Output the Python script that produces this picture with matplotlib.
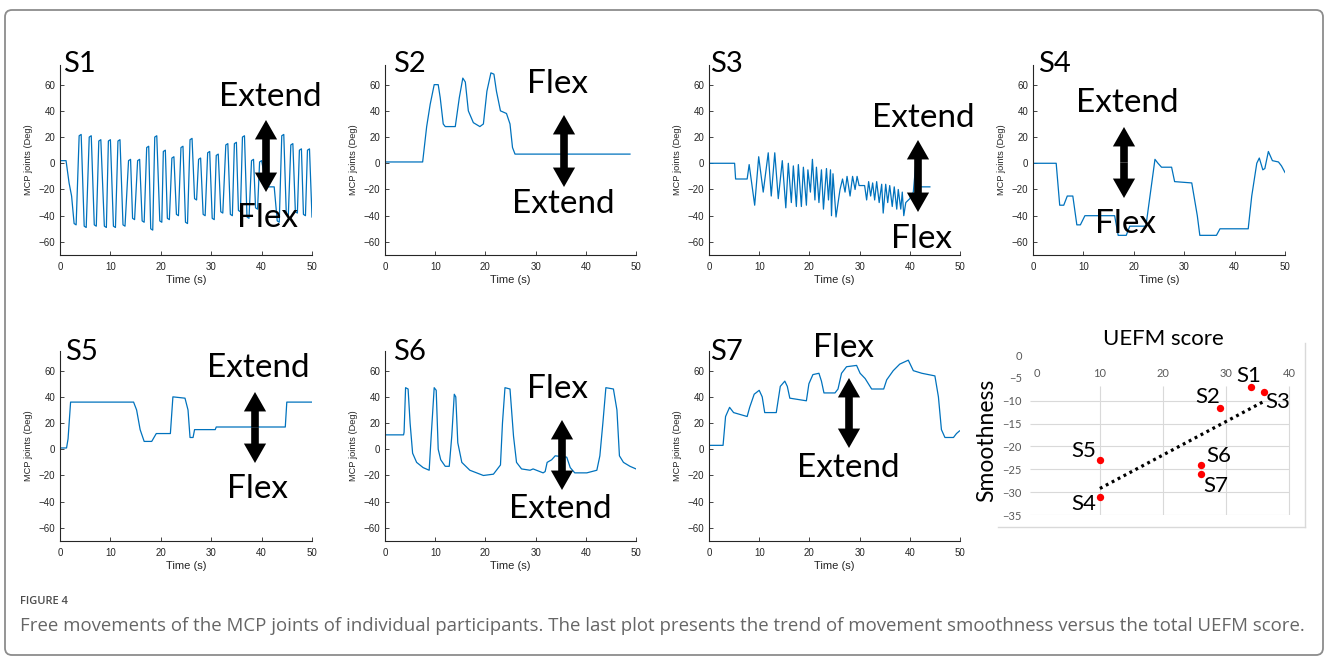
import matplotlib
matplotlib.use('Agg')
import matplotlib.pyplot as plt
import numpy as np
from matplotlib.patches import FancyArrowPatch, FancyBboxPatch
from matplotlib.lines import Line2D
from matplotlib.transforms import IdentityTransform

plt.rcParams['font.family'] = ['Liberation Sans', 'DejaVu Sans']

W, H, DPI = 1328, 662, 100

# ---------------- data ----------------
s1_t = [0, 1.2, 1.8, 2.3, 2.8, 3.2, 3.8, 4.2, 4.8, 5.2, 5.8, 6.2, 6.8, 7.2, 7.7, 8.1,
        8.8, 9.2, 9.6, 10.0, 10.6, 11.0, 11.5, 11.9, 12.5, 12.9, 13.6, 14.0, 14.4, 14.8,
        15.4, 15.8, 16.3, 16.7, 17.2, 17.6, 18.0, 18.4, 18.8, 19.2, 19.8, 20.2, 20.5,
        20.9, 21.3, 21.7, 22.2, 22.6, 23.1, 23.5, 24.0, 24.4, 24.9, 25.3, 25.8, 26.2,
        26.7, 27.1, 27.5, 27.9, 28.4, 28.8, 29.3, 29.7, 30.2, 30.6, 31.0, 31.4, 31.9,
        32.3, 32.9, 33.3, 33.8, 34.2, 34.6, 35.0, 35.4, 35.8, 36.2, 36.6, 37.1, 37.5,
        38.0, 38.4, 38.8, 39.2, 39.6, 40.0, 41.0, 42.5, 43.1, 43.5, 44.0, 44.4, 44.9,
        45.3, 45.8, 46.2, 46.7, 47.1, 47.5, 47.9, 48.3, 48.7, 49.1, 49.5, 50.0]
s1_v = [2, 2, -15, -25, -46, -47, 21, 22, -48, -49, 20, 21, -47, -48, 17, 18,
        -48, -49, 17, 18, -48, -49, 17, 18, -47, -48, 2, 3, -42, -43,
        2, 3, -44, -45, 12, 13, -50, -51, 20, 21, -44, -45, 9,
        10, -42, -43, 4, 5, -39, -40, 12, 13, -45, -46, 18, 19,
        -27, -28, 3, 4, -39, -40, 8, 9, -42, -43, 6, 7, -37,
        -38, 14, 15, -39, -40, 15, 16, -36, -37, 20, 21, -41, -42,
        2, 3, -34, -35, 1, 2, -18, -18, -44, -45, 21, 22, -39,
        -40, 14, 15, -37, -38, 10, 11, -39, -40, 10, 11, -41]

s2_t = [0, 7.5, 8.3, 9.0, 9.8, 10.6, 11.0, 11.6, 12.0, 14.0, 14.8, 15.5, 16.0, 16.6,
        17.6, 18.9, 19.6, 20.3, 21.1, 21.7, 22.2, 23.0, 24.2, 24.9, 25.4, 25.9, 48.8]
s2_v = [1, 1, 28, 45, 60, 60, 50, 30, 28, 28, 50, 65, 62, 40,
        31, 28, 30, 55, 69, 68, 55, 40, 38, 30, 12, 7, 7]

s3_t = [0, 5.1, 5.3, 7.6, 8.0, 9.1, 9.9, 10.8, 11.8, 12.4, 13.1, 13.8, 14.6, 15.3, 15.8,
        16.4, 16.8, 17.4, 17.8, 18.4, 18.8, 19.4, 19.7, 20.2, 20.6, 21.1, 21.4, 21.9,
        22.4, 22.8, 23.4, 23.8, 24.2, 24.4, 24.7, 25.3, 26.1, 26.6, 27.1, 27.5, 28.1,
        28.6, 29.1, 29.5, 29.9, 31.0, 31.4, 31.8, 32.2, 32.6, 33.0, 33.4, 33.9, 34.4,
        34.7, 35.2, 35.6, 36.0, 36.5, 36.9, 37.4, 37.7, 38.2, 38.5, 38.8, 39.2, 40.0,
        40.7, 41.2, 41.5, 44.0]
s3_v = [0, 0, -12, -12, -1, -32, 5, -22, 8, -25, 8, -27, 2, -34, 0,
        -30, -2, -33, -1, -33, -3, -32, -5, -22, 3, -28, -3, -30,
        -5, -35, -4, -28, -5, -40, -8, -41, -20, -12, -22, -10, -25,
        -10, -20, -10, -17, -17, -28, -14, -25, -15, -28, -14, -30, -16,
        -38, -16, -30, -17, -33, -18, -35, -20, -35, -22, -40, -30, -27,
        -22, 0, -18, -18]

s4_t = [0, 4.6, 5.3, 6.1, 6.8, 7.9, 8.7, 9.4, 10.3, 16.2, 16.9, 18.5, 19.2, 22.4, 24.2,
        24.8, 25.5, 27.5, 28.1, 31.5, 32.6, 33.1, 36.4, 37.1, 42.7, 43.4, 44.4, 44.9,
        45.6, 46.0, 46.7, 47.5, 48.7, 49.3, 50.0]
s4_v = [0, 0, -32, -32, -25, -25, -47, -47, -40, -40, -55, -55, -48, -48, 3,
        0, -3, -3, -14, -15, -40, -55, -55, -50, -50, -25, 0, 4,
        -5, -4, 9, 2, 1, -2, -7]

s5_t = [0, 1.3, 1.6, 2.1, 14.6, 15.2, 15.9, 16.7, 18.2, 19.1, 21.9, 22.4, 24.8, 25.4,
        25.8, 26.4, 26.7, 30.8, 31.0, 44.7, 45.0, 50.0]
s5_v = [1, 1, 8, 36, 36, 30, 15, 6, 6, 12, 12, 40, 39, 30,
        9, 9, 15, 15, 17, 17, 36, 36]

s6_t = [0, 3.7, 3.8, 4.1, 4.6, 5.0, 5.5, 6.3, 7.6, 8.8, 9.2, 9.8, 10.2, 10.6, 11.1,
        12.0, 12.8, 13.3, 13.8, 14.1, 14.5, 15.3, 16.9, 19.6, 21.6, 23.0, 23.4, 23.9,
        24.9, 25.6, 26.2, 27.2, 28.9, 29.5, 31.5, 31.9, 32.3, 33.2, 33.9, 36.2, 36.9,
        37.8, 40.2, 42.2, 42.8, 43.4, 44.0, 45.5, 46.2, 46.7, 47.5, 48.8, 50.0]
s6_v = [11, 11, 13, 47, 46, 20, -3, -10, -14, -16, 10, 47, 45, 0, -8,
        -13, -13, 10, 42, 40, 5, -10, -16, -20, -19, -12, 20, 47,
        46, 10, -10, -15, -16, -15, -18, -17, -10, -8, -5, -6, -14,
        -18, -18, -16, -5, 20, 47, 46, 30, -5, -10, -13, -15]

s7_t = [0, 2.8, 3.3, 4.1, 4.9, 7.6, 8.1, 9.0, 10.0, 10.6, 11.1, 13.4, 14.2, 15.1, 15.6,
        16.1, 19.4, 19.9, 20.7, 21.9, 22.4, 22.9, 25.1, 25.7, 26.4, 27.4, 29.4, 30.1,
        31.1, 32.4, 34.8, 35.4, 36.7, 38.0, 39.7, 40.7, 42.4, 45.0, 45.7, 46.3, 47.0,
        48.7, 49.3, 49.9]
s7_v = [3, 3, 25, 32, 28, 25, 32, 42, 45, 40, 28, 28, 48, 52, 48,
        39, 37, 50, 57, 58, 52, 43, 43, 46, 58, 63, 64, 58,
        54, 46, 46, 53, 60, 65, 68, 60, 58, 56, 40, 15, 9,
        9, 12, 14]

subject_labels = ['S1', 'S2', 'S3', 'S4', 'S5', 'S6', 'S7']
uefm_score = [34, 29, 36, 10, 10, 26, 26]
smoothness = [-7, -11.5, -8, -31, -23, -24, -26]

x_ticks = [0, 10, 20, 30, 40, 50]
y_ticks = [-60, -40, -20, 0, 20, 40, 60]
sc_x_ticks = [0, 10, 20, 30, 40]
sc_y_ticks = [0, -5, -10, -15, -20, -25, -30, -35]

# ---------------- figure ----------------
fig = plt.figure(figsize=(W / DPI, H / DPI), dpi=DPI)
fig.patch.set_facecolor('white')


def fx(x):
    return x / W


def fy(y):
    return 1 - y / H


def px_axes(x0, y0, x1, y1):
    return fig.add_axes([fx(x0), fy(y1), (x1 - x0) / W, (y1 - y0) / H])


LINE_C = '#0072BD'
AX_C = '#262626'
ANN_FONT = 'Lato'

panels = [
    # series, box(l,t,r,b), label pos, (top text, x, y), (bottom text, x, y), arrow (x, y0, y1)
    (s1_t, s1_v, (60, 65, 312, 255), (63, 72), ('Extend', 270, 106), ('Flex', 268, 227), (266, 120, 192)),
    (s2_t, s2_v, (385, 65, 636, 255), (393, 72), ('Flex', 558, 93), ('Extend', 563, 213), (564, 115, 187)),
    (s3_t, s3_v, (709, 65, 960, 255), (710, 72), ('Extend', 923, 127), ('Flex', 922, 248), (918, 140, 212)),
    (s4_t, s4_v, (1033, 65, 1285, 255), (1038, 72), ('Extend', 1127, 112), ('Flex', 1125, 233), (1124, 127, 198)),
    (s5_t, s5_v, (60, 351, 312, 541), (65, 360), ('Extend', 258, 377), ('Flex', 257, 498), (255, 392, 463)),
    (s6_t, s6_v, (385, 351, 636, 541), (393, 360), ('Flex', 557, 398), ('Extend', 560, 518), (562, 420, 490)),
    (s7_t, s7_v, (709, 351, 960, 541), (710, 360), ('Flex', 843, 357), ('Extend', 848, 477), (849, 378, 448)),
]


def double_arrow(x, y0, y1):
    ym = (y0 + y1) / 2
    for yend in (y0, y1):
        p = FancyArrowPatch((fx(x), fy(ym)), (fx(x), fy(yend)), transform=fig.transFigure,
                            arrowstyle='simple,head_length=14,head_width=16,tail_width=5.5',
                            mutation_scale=1, color='black', lw=0, shrinkA=0, shrinkB=0)
        fig.add_artist(p)


for i, (t, v, box, lab, top, bot, arr) in enumerate(panels):
    ax = px_axes(*box)
    ax.plot(t, v, color=LINE_C, lw=0.9)
    ax.set_xlim(0, 50)
    ax.set_ylim(-70, 75)
    ax.set_xticks(x_ticks)
    ax.set_yticks(y_ticks)
    for s in ['top', 'right']:
        ax.spines[s].set_visible(False)
    for s in ['left', 'bottom']:
        ax.spines[s].set_color(AX_C)
        ax.spines[s].set_linewidth(0.8)
    ax.tick_params(direction='in', length=3, width=0.6, labelsize=7, colors=AX_C)
    ax.tick_params(axis='x', pad=5)
    ax.tick_params(axis='y', pad=3.5)
    ax.set_xlabel('Time (s)', fontsize=8, labelpad=2.5, color=AX_C)
    ax.set_ylabel('MCP joints (Deg)', fontsize=6.7, labelpad=4, color=AX_C)
    ax.patch.set_alpha(0)

    fig.text(fx(lab[0]), fy(lab[1]), subject_labels[i], family=ANN_FONT, fontsize=21,
             ha='left', va='baseline', color='black')
    for txt, x, y in (top, bot):
        fig.text(fx(x), fy(y), txt, family=ANN_FONT, fontsize=24, ha='center',
                 va='baseline', color='black', zorder=5)
    double_arrow(*arr)

# ---------------- scatter panel ----------------
GRID_C = '#d9d9d9'
TICK_C = '#595959'
sx = px_axes(1030, 355, 1292, 515)
sx.set_xlim(-1.1, 40.5)
sx.set_ylim(-35, 0)
for s in sx.spines.values():
    s.set_visible(False)
sx.hlines(sc_y_ticks[2:], -1.1, 40, color=GRID_C, lw=0.8, zorder=0)
sx.vlines(sc_x_ticks[1:], -35, -6.8, color=GRID_C, lw=0.8, zorder=0)

sx.set_xticks(sc_x_ticks)
sx.set_yticks(sc_y_ticks)
sx.xaxis.set_ticks_position('top')
sx.tick_params(axis='x', length=0, labeltop=True, labelbottom=False, pad=-17,
               labelsize=8, labelcolor=TICK_C)
sx.tick_params(axis='y', length=0, pad=6, labelsize=8, labelcolor=TICK_C)
for lbl in sx.get_xticklabels() + sx.get_yticklabels():
    lbl.set_family(ANN_FONT)

slope, intercept = np.polyfit(uefm_score, smoothness, 1)
trend_x = np.array([min(uefm_score), max(uefm_score)])
sx.plot(trend_x, slope * trend_x + intercept, color='black', lw=2.3,
        ls=(0, (0.9, 1.2)), zorder=2)
sx.scatter(uefm_score, smoothness, s=28, color='#ff0000', zorder=3, linewidths=0)

label_offsets = {'S1': (-2, 11), 'S2': (-12, 11), 'S3': (14, -10), 'S4': (-16, -7),
                 'S5': (-16, 9), 'S6': (18, 9), 'S7': (15, -12)}
for name, x, y in zip(subject_labels, uefm_score, smoothness):
    dx, dy = label_offsets[name]
    sx.annotate(name, (x, y), xytext=(dx, dy), textcoords='offset pixels',
                ha='center', va='center', family=ANN_FONT, fontsize=16, color='black')

fig.text(fx(1163), fy(345), 'UEFM score', family=ANN_FONT, fontsize=16,
         ha='center', va='baseline')
fig.text(fx(987), fy(440), 'Smoothness', family=ANN_FONT, fontsize=16.5,
         ha='center', va='center', rotation=90)

# chart-area border (right and bottom edges)
fig.add_artist(Line2D([fx(1305), fx(1305)], [fy(343), fy(527)], transform=fig.transFigure,
                      color=GRID_C, lw=1))
fig.add_artist(Line2D([fx(998), fx(1305)], [fy(527), fy(527)], transform=fig.transFigure,
                      color=GRID_C, lw=1))

# ---------------- frame and caption ----------------
frame = FancyBboxPatch((5, H - 655), 1318, 645, boxstyle='round,pad=0,rounding_size=7',
                       transform=IdentityTransform(), facecolor='none',
                       edgecolor='#8c8c8c', lw=1.3)
fig.add_artist(frame)

fig.text(fx(20), fy(601), 'FIGURE 4', family='Open Sans', fontsize=8, weight='semibold',
         color='#4d4d4d', ha='left', va='center')
fig.text(fx(20), fy(626),
         'Free movements of the MCP joints of individual participants. The last plot presents '
         'the trend of movement smoothness versus the total UEFM score.',
         family='Open Sans', fontsize=13.4, color='#666666', ha='left', va='center')

fig.savefig('out.png', dpi=DPI)
